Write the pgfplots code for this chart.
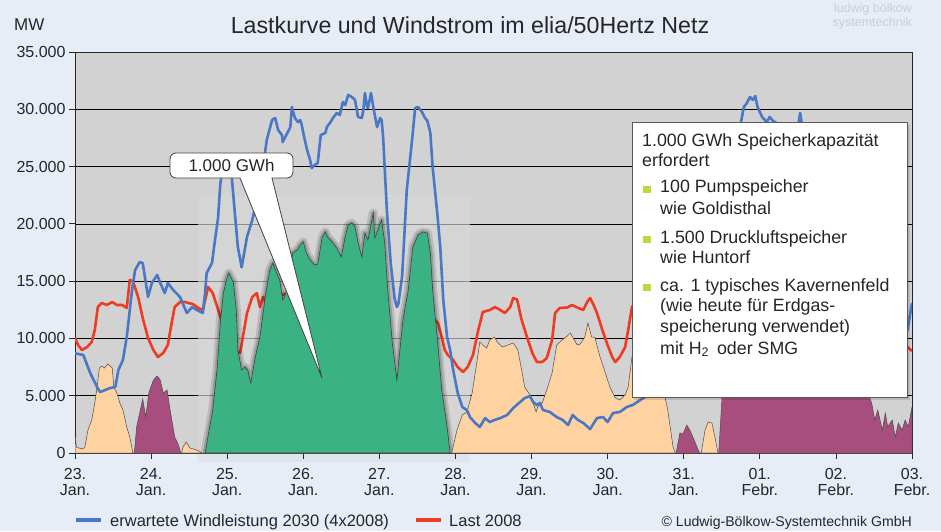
\documentclass[border=0pt]{standalone}
\usepackage{pgfplots}
\pgfplotsset{compat=1.18}
\usepackage{pgfplotstable}
\usepackage{fontspec}
\setmainfont{Liberation Sans}

\definecolor{bgc}{HTML}{E7EDF7}
\definecolor{plotbg}{HTML}{D2D2D2}
\definecolor{rectbg}{HTML}{D5D5D5}
\definecolor{margrect}{HTML}{E0E5EC}
\definecolor{windc}{HTML}{4A78C4}
\definecolor{loadc}{HTML}{EE3B22}
\definecolor{greenc}{HTML}{3AB283}
\definecolor{orangec}{HTML}{FFD2A2}
\definecolor{purplec}{HTML}{A84E7F}
\definecolor{bulletc}{HTML}{BFD73E}
\definecolor{txt}{HTML}{262626}
\definecolor{wmark}{HTML}{C5CEDB}

\pgfplotstableread{
d mw
0.00 8700
0.11 8550
0.20 6980
0.29 5760
0.33 5320
0.46 5670
0.53 5760
0.57 7240
0.63 8120
0.68 10120
0.75 14230
0.79 15970
0.85 16670
0.89 16580
0.96 13620
1.01 14840
1.08 15540
1.12 14840
1.18 13960
1.22 14840
1.29 14230
1.38 13620
1.47 12220
1.54 12740
1.60 12480
1.68 12220
1.71 14000
1.73 15710
1.80 16580
1.84 18590
1.88 20500
1.91 23500
1.95 25300
2.02 25500
2.06 24100
2.10 21000
2.14 18000
2.19 16200
2.26 18850
2.33 20340
2.39 22080
2.46 24440
2.52 27320
2.59 29060
2.63 29240
2.67 28190
2.72 27750
2.73 27140
2.79 27930
2.83 28450
2.85 30200
2.86 29940
2.89 29240
2.93 28890
2.96 29060
2.98 28630
3.00 27930
3.05 26450
3.09 25570
3.11 24870
3.15 25140
3.19 25310
3.23 27750
3.29 27930
3.31 28450
3.35 28800
3.39 29240
3.44 29680
3.48 29500
3.52 30630
3.55 30370
3.59 31250
3.64 31070
3.68 30810
3.72 29330
3.77 29240
3.79 29940
3.81 31420
3.84 30200
3.85 30110
3.89 31420
3.92 30200
3.97 28450
4.01 29240
4.03 29060
4.05 27500
4.10 21000
4.15 16500
4.20 13500
4.23 12740
4.25 13000
4.30 15500
4.36 22950
4.43 27320
4.47 30110
4.51 30200
4.56 29760
4.60 29240
4.63 29000
4.67 27930
4.70 24960
4.76 21000
4.80 18000
4.84 13350
4.89 10120
4.93 8990
4.97 7240
5.03 5240
5.09 4010
5.15 3750
5.19 3140
5.26 2620
5.32 2270
5.39 3050
5.45 2700
5.52 2900
5.59 3050
5.68 3320
5.76 3930
5.85 4450
5.91 4800
5.98 4970
6.02 4450
6.07 4190
6.11 4360
6.15 3750
6.24 3580
6.33 3140
6.41 2880
6.48 2440
6.54 3320
6.61 2880
6.68 2620
6.77 2090
6.86 3050
6.94 3140
7.00 2700
7.07 3490
7.16 3580
7.25 4010
7.33 4190
7.43 4630
7.47 4800
7.60 5200
7.75 6500
7.90 9500
8.05 10300
8.20 9000
8.35 9500
8.47 12500
8.55 20000
8.65 26000
8.75 28800
8.79 30200
8.83 30550
8.87 31070
8.91 30810
8.94 31160
8.97 30200
9.03 29330
9.09 28890
9.13 29330
9.17 29000
9.22 28800
9.30 26500
9.40 25500
9.48 27500
9.53 29680
9.58 27500
9.70 24000
9.90 20000
10.10 16000
10.30 15500
10.45 15500
10.60 12500
10.80 12000
10.94 10700
11.00 13090
}\windtab

\pgfplotstableread{
d mw
0.00 10040
0.04 9430
0.09 8990
0.16 9250
0.22 9690
0.26 10740
0.30 12740
0.35 13090
0.42 12920
0.49 13180
0.55 12920
0.62 12920
0.68 12660
0.72 15100
0.76 15000
0.83 13620
0.89 11780
0.96 10040
1.03 8990
1.09 8380
1.16 8730
1.22 9430
1.27 11350
1.31 12740
1.38 13180
1.45 13180
1.49 13090
1.55 13000
1.62 12660
1.68 12480
1.75 14490
1.81 13960
1.87 12740
1.91 11870
2.00 10000
2.10 9000
2.17 8730
2.26 12220
2.33 13620
2.39 13960
2.43 12740
2.47 13620
2.55 12800
2.65 13500
2.75 13900
2.85 12400
2.95 11000
3.05 10000
3.15 9200
3.25 9500
3.35 10800
3.50 11200
3.65 11500
3.80 11000
3.95 10500
4.05 9500
4.15 7800
4.23 6400
4.32 8500
4.45 10500
4.60 11500
4.70 11800
4.77 11350
4.82 10120
4.86 8990
4.90 8550
4.97 8120
5.03 7500
5.10 7070
5.16 7500
5.23 8550
5.30 10740
5.36 12310
5.45 12480
5.52 12740
5.59 12480
5.65 12220
5.72 12740
5.76 13530
5.81 13400
5.87 11610
5.94 10120
6.01 8730
6.07 7940
6.14 7940
6.20 8290
6.27 9860
6.31 12220
6.37 12660
6.47 12700
6.53 12920
6.60 12700
6.68 12480
6.73 13180
6.77 13530
6.81 13000
6.86 12220
6.93 10740
6.99 9600
7.06 8380
7.10 7940
7.16 8380
7.23 9250
7.27 10740
7.32 12740
7.40 13500
7.55 13200
7.70 13000
7.80 11500
7.90 9500
8.00 8300
8.10 8200
8.20 9000
8.30 12000
8.40 12800
8.50 13000
8.70 13200
8.90 12500
9.00 11000
9.10 9500
9.25 9000
9.40 11500
9.55 12500
9.80 12500
9.95 11000
10.10 9500
10.30 10000
10.50 11000
10.70 10500
10.90 9500
10.95 9200
11.00 8900
}\loadtab

\pgfplotstableread{
d mw
0.00 1400
0.02 500
0.10 350
0.13 520
0.17 2000
0.22 2880
0.26 4360
0.29 5760
0.32 7420
0.35 7590
0.39 7420
0.43 7770
0.49 7420
0.51 5760
0.55 5240
0.59 4360
0.63 3750
0.68 2270
0.72 1400
0.76 0
1.40 0
1.42 520
1.46 960
1.51 440
1.60 260
1.67 0
4.95 0
5.02 2000
5.09 3320
5.15 3580
5.22 5240
5.28 7860
5.32 9690
5.36 9430
5.41 9160
5.45 9860
5.51 10120
5.56 9600
5.62 9250
5.69 9430
5.76 9600
5.82 8990
5.87 7240
5.91 5760
5.98 5060
6.02 4360
6.06 3580
6.08 4010
6.14 4360
6.20 5500
6.27 6980
6.33 9430
6.40 9860
6.47 10210
6.51 10470
6.54 10120
6.60 9430
6.64 9500
6.70 10120
6.74 11350
6.79 10120
6.83 10120
6.90 8380
6.97 6980
7.03 5760
7.10 4800
7.16 4630
7.23 5060
7.27 5760
7.32 8380
7.40 9000
7.55 8700
7.70 7000
7.75 5000
7.79 3750
7.86 520
7.89 0
8.23 0
8.28 2000
8.32 2700
8.37 2620
8.41 1400
8.45 0
11.00 0
}\deftab

\pgfplotstableread{
d mw
0.76 0
0.78 0
0.81 2270
0.89 4710
0.93 3140
0.97 5240
1.03 6370
1.08 6720
1.12 6370
1.16 5240
1.21 5500
1.25 3750
1.31 1400
1.35 870
1.39 0
7.90 0
7.95 1750
7.99 1650
8.04 2440
8.08 2000
8.12 1400
8.19 260
8.21 0
8.46 0
8.50 4500
8.53 8000
8.60 14000
8.80 18000
9.00 19000
9.30 16000
9.50 16000
9.70 13000
10.00 9000
10.20 6500
10.40 5500
10.47 4360
10.51 2880
10.55 3750
10.61 2000
10.65 3490
10.68 2270
10.74 2880
10.78 1400
10.82 2620
10.87 2000
10.91 2880
10.95 2270
11.00 4010
}\surtab

\pgfplotstableread{
d mw
1.71 0
1.77 2270
1.81 3750
1.87 7500
1.91 11350
1.95 13960
2.00 15360
2.02 15710
2.08 14920
2.12 12480
2.14 8990
2.19 7240
2.23 7500
2.27 7240
2.31 6110
2.37 8380
2.43 10120
2.50 13620
2.56 15970
2.60 16580
2.65 15710
2.69 15100
2.73 13350
2.79 14230
2.83 15970
2.86 17460
2.92 17720
2.96 18150
3.00 18420
3.04 17460
3.09 16850
3.15 16410
3.19 16500
3.25 18850
3.29 19290
3.32 18850
3.39 18330
3.44 17890
3.50 17110
3.55 18850
3.59 19900
3.64 20070
3.68 19730
3.72 18330
3.77 17110
3.81 19200
3.85 18590
3.92 20950
3.94 18760
3.98 19460
4.03 20340
4.07 18330
4.11 14230
4.17 9600
4.21 7500
4.23 6370
4.27 8990
4.31 11610
4.38 14230
4.44 17980
4.51 19030
4.57 19290
4.63 19200
4.67 17460
4.70 14230
4.76 10120
4.82 5500
4.89 2270
4.93 0
}\greentab

\begin{document}
\begin{tikzpicture}[x=1pt,y=1pt]
\fill[bgc] (0,0) rectangle (941,531);
\useasboundingbox (0,0) rectangle (941,531);
\fill[margrect] (198,69) rectangle (470,78);
\begin{axis}[
  at={(75pt,78pt)}, anchor=south west,
  scale only axis, width=837pt, height=401pt,
  xmin=0, xmax=11, ymin=0, ymax=35000,
  axis background/.style={fill=plotbg},
  axis line style={black!85, line width=0.9pt},
  tick align=outside, tick pos=left,
  major tick length=6pt,
  tick style={black!85, line width=0.8pt},
  ytick={0,5000,10000,15000,20000,25000,30000,35000},
  yticklabels={0,5.000,10.000,15.000,20.000,25.000,30.000,35.000},
  scaled y ticks=false,
  xtick={0,1,2,3,4,5,6,7,8,9,10,11},
  xticklabels={{23.\\Jan.},{24.\\Jan.},{25.\\Jan.},{26.\\Jan.},{27.\\Jan.},{28.\\Jan.},{29.\\Jan.},{30.\\Jan.},{31.\\Jan.},{01.\\Febr.},{02.\\Febr.},{03.\\Febr.}},
  xticklabel style={align=center, font=\fontsize{16}{16}\selectfont, text=txt, yshift=-6pt},
  yticklabel style={font=\fontsize{16}{16}\selectfont, text=txt},
  ymajorgrids, grid style={black, line width=0.7pt},
]
\fill[rectbg] (axis cs:1.62,0) rectangle (axis cs:5.19,22520);
\foreach \g in {5000,10000,15000,20000} {
  \edef\tmp{\noexpand\draw[black!45, line width=0.7pt] (axis cs:1.62,\g) -- (axis cs:5.19,\g);}\tmp
}
\addplot[loadc, line width=2.6pt, line join=round] table[x=d,y=mw] {\loadtab};
\addplot[draw=black, draw opacity=0.12, line width=9pt, line join=round, forget plot] table[x=d,y=mw] {\greentab};
\addplot[draw=black, draw opacity=0.18, line width=4.5pt, line join=round, forget plot] table[x=d,y=mw] {\greentab};
\addplot[fill=orangec, draw=black!70, line width=0.5pt] table[x=d,y=mw] {\deftab} \closedcycle;
\addplot[fill=purplec, draw=black!70, line width=0.5pt] table[x=d,y=mw] {\surtab} \closedcycle;
\addplot[fill=greenc, draw=black!75, line width=0.6pt] table[x=d,y=mw] {\greentab} \closedcycle;
\addplot[windc, line width=2.6pt, line join=round] table[x=d,y=mw] {\windtab};
\end{axis}

% title and labels
\node[anchor=base, font=\fontsize{23.2}{24}\selectfont, text=txt] at (470,497) {Lastkurve und Windstrom im elia/50Hertz Netz};
\node[anchor=base west, inner sep=0pt, font=\fontsize{17}{17}\selectfont, text=txt] at (14,500) {MW};
\node[anchor=base east, inner sep=0pt, font=\fontsize{12.5}{13}\selectfont, text=wmark] at (912,518) {ludwig bölkow};
\node[anchor=base east, inner sep=0pt, font=\fontsize{12.5}{13}\selectfont, text=wmark] at (912,504) {systemtechnik};

% callout
\draw[fill=white, draw=black!75, line width=0.8pt, line join=round]
  (176,353) -- (240,353) -- (322,153) -- (272,353) -- (287,353)
  arc[start angle=-90, end angle=0, radius=6] -- (293,372)
  arc[start angle=0, end angle=90, radius=6] -- (176,378)
  arc[start angle=90, end angle=180, radius=6] -- (170,359)
  arc[start angle=180, end angle=270, radius=6] -- cycle;
\node[anchor=base, inner sep=0pt, font=\fontsize{17}{18}\selectfont, text=txt] at (231.5,359.5) {1.000 GWh};

% info box
\fill[black, opacity=0.12] (634,131) rectangle (910,406);
\draw[fill=white, draw=black!65, line width=1pt] (632,134) rectangle (907,408);
\begin{scope}[every node/.style={anchor=base west, inner sep=0pt, font=\fontsize{17.8}{20}\selectfont, text=txt}]
\node at (642,384) {1.000 GWh Speicherkapazität};
\node at (642,364) {erfordert};
\node at (660,338) {100 Pumpspeicher};
\node at (660,317) {wie Goldisthal};
\node at (660,288) {1.500 Druckluftspeicher};
\node at (660,268) {wie Huntorf};
\node at (660,240) {ca. 1 typisches Kavernenfeld};
\node at (660,220) {(wie heute für Erdgas-};
\node at (660,199) {speicherung verwendet)};
\node at (660,177) {mit H\textsubscript{2}\, oder SMG};
\end{scope}
\fill[bulletc] (643,338) rectangle (650.5,345.5);
\fill[bulletc] (643,288) rectangle (650.5,295.5);
\fill[bulletc] (643,240) rectangle (650.5,247.5);

% legend
\draw[windc, line width=4pt] (76,11) -- (101,11);
\node[anchor=base west, inner sep=0pt, font=\fontsize{16.5}{17}\selectfont, text=txt] at (110,5) {erwartete Windleistung 2030 (4x2008)};
\draw[loadc, line width=4pt] (416,11) -- (441,11);
\node[anchor=base west, inner sep=0pt, font=\fontsize{16.5}{17}\selectfont, text=txt] at (449,5) {Last 2008};
\node[anchor=base east, inner sep=0pt, font=\fontsize{14.1}{15}\selectfont, text=txt] at (912,5) {© Ludwig-Bölkow-Systemtechnik GmbH};
\end{tikzpicture}
\end{document}
